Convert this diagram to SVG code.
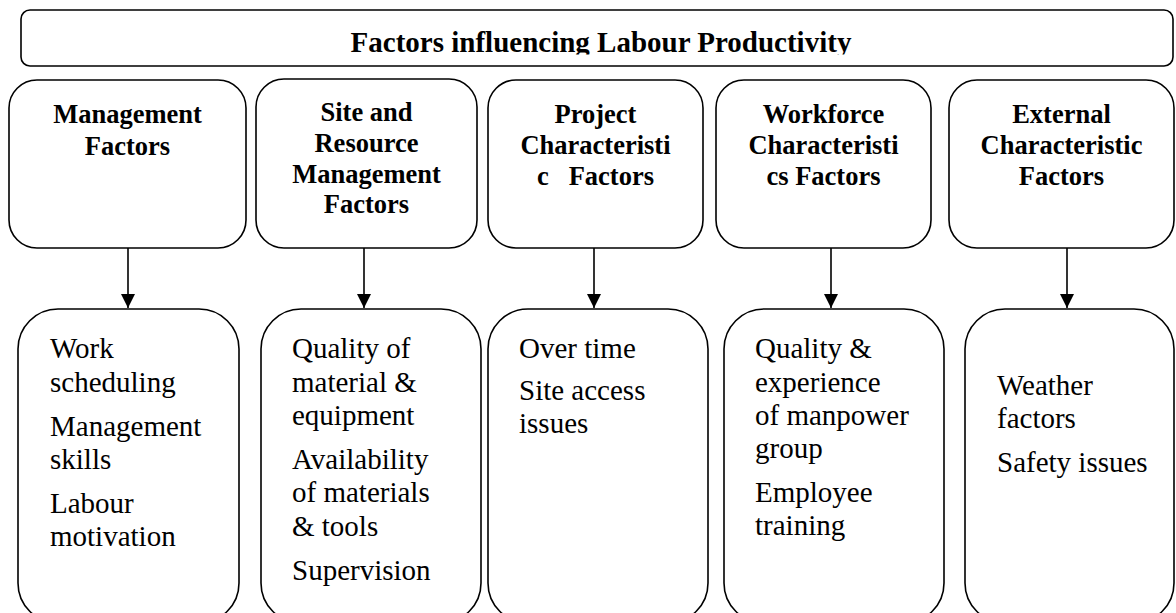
<svg xmlns="http://www.w3.org/2000/svg" width="1176" height="613" viewBox="0 0 1176 613">
<style>
.box{fill:#fff;stroke:#000;stroke-width:1.6}
.hd{font-family:"Liberation Serif","Times New Roman",serif;font-weight:bold;font-size:26.5px;text-anchor:middle;fill:#000}
.tt{font-family:"Liberation Serif","Times New Roman",serif;font-weight:bold;font-size:29px;text-anchor:middle;fill:#000}
.it{font-family:"Liberation Serif","Times New Roman",serif;font-size:29px;fill:#000}
.conn{stroke:#000;stroke-width:1.6;fill:none}
</style>
<defs>
<marker id="ah" viewBox="0 0 14 14" refX="14" refY="7" markerWidth="14" markerHeight="14" markerUnits="userSpaceOnUse" orient="auto">
<path d="M0,0 L14,7 L0,14 Z" fill="#000"/>
</marker>
<clipPath id="tclip"><rect x="0" y="0" width="1176" height="54.5"/></clipPath>
</defs>
<rect width="1176" height="613" fill="#fff"/>

<g id="title">
<rect class="box" x="21" y="10" width="1152" height="56" rx="9"/>
<text class="tt" x="601" y="52" clip-path="url(#tclip)">Factors influencing Labour Productivity</text>
</g>

<g id="management">
<rect class="box" x="9" y="80" width="237" height="168" rx="28"/>
<text class="hd" x="127.5" y="123">Management</text>
<text class="hd" x="127.5" y="155">Factors</text>
</g>
<g id="site">
<rect class="box" x="256" y="79" width="221" height="169" rx="28"/>
<text class="hd" x="366.5" y="121">Site and</text>
<text class="hd" x="366.5" y="152">Resource</text>
<text class="hd" x="366.5" y="183">Management</text>
<text class="hd" x="366.5" y="213">Factors</text>
</g>
<g id="project">
<rect class="box" x="488" y="80" width="215" height="168" rx="28"/>
<text class="hd" x="595.5" y="123">Project</text>
<text class="hd" x="595.5" y="154">Characteristi</text>
<text class="hd" x="595.5" y="185" xml:space="preserve" style="white-space:pre">c   Factors</text>
</g>
<g id="workforce">
<rect class="box" x="716" y="80" width="215" height="168" rx="28"/>
<text class="hd" x="823.5" y="123">Workforce</text>
<text class="hd" x="823.5" y="154">Characteristi</text>
<text class="hd" x="823.5" y="185">cs Factors</text>
</g>
<g id="external">
<rect class="box" x="949" y="80" width="225" height="168" rx="28"/>
<text class="hd" x="1061.5" y="123">External</text>
<text class="hd" x="1061.5" y="154">Characteristic</text>
<text class="hd" x="1061.5" y="185">Factors</text>
</g>

<g id="connectors">
<line class="conn" x1="128" y1="248" x2="128" y2="308" marker-end="url(#ah)"/>
<line class="conn" x1="364" y1="248" x2="364" y2="308" marker-end="url(#ah)"/>
<line class="conn" x1="594" y1="248" x2="594" y2="308" marker-end="url(#ah)"/>
<line class="conn" x1="831" y1="248" x2="831" y2="308" marker-end="url(#ah)"/>
<line class="conn" x1="1067" y1="248" x2="1067" y2="308" marker-end="url(#ah)"/>
</g>

<g id="management-items">
<rect class="box" x="18" y="309" width="221" height="314" rx="40"/>
<text class="it" x="50" y="358">Work</text>
<text class="it" x="50" y="392">scheduling</text>
<text class="it" x="50" y="436">Management</text>
<text class="it" x="50" y="469">skills</text>
<text class="it" x="50" y="513">Labour</text>
<text class="it" x="50" y="546">motivation</text>
</g>
<g id="site-items">
<rect class="box" x="261" y="309" width="220" height="314" rx="40"/>
<text class="it" x="292" y="358">Quality of</text>
<text class="it" x="292" y="392">material &amp;</text>
<text class="it" x="292" y="425">equipment</text>
<text class="it" x="292" y="469">Availability</text>
<text class="it" x="292" y="502">of materials</text>
<text class="it" x="292" y="536">&amp; tools</text>
<text class="it" x="292" y="580">Supervision</text>
</g>
<g id="project-items">
<rect class="box" x="488" y="309" width="220" height="314" rx="40"/>
<text class="it" x="519" y="358">Over time</text>
<text class="it" x="519" y="400">Site access</text>
<text class="it" x="519" y="433">issues</text>
</g>
<g id="workforce-items">
<rect class="box" x="724" y="309" width="220" height="314" rx="40"/>
<text class="it" x="755" y="358">Quality &amp;</text>
<text class="it" x="755" y="392">experience</text>
<text class="it" x="755" y="425">of manpower</text>
<text class="it" x="755" y="458">group</text>
<text class="it" x="755" y="502">Employee</text>
<text class="it" x="755" y="535">training</text>
</g>
<g id="external-items">
<rect class="box" x="965" y="309" width="209" height="314" rx="40"/>
<text class="it" x="997" y="395">Weather</text>
<text class="it" x="997" y="428">factors</text>
<text class="it" x="997" y="472">Safety issues</text>
</g>
</svg>
